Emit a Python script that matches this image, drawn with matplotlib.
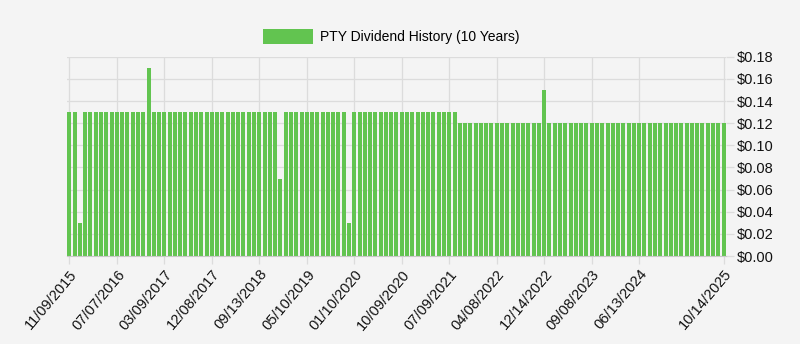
import matplotlib.pyplot as plt

# datos: dividendos de PTY (un valor por pago, en orden)
dividendos = [
    0.13, 0.13, 0.03, 0.13, 0.13, 0.13, 0.13, 0.13, 0.13, 0.13, 0.13, 0.13,
    0.13, 0.13, 0.13, 0.17, 0.13, 0.13, 0.13, 0.13, 0.13, 0.13, 0.13, 0.13,
    0.13, 0.13, 0.13, 0.13, 0.13, 0.13, 0.13, 0.13, 0.13, 0.13, 0.13, 0.13,
    0.13, 0.13, 0.13, 0.13, 0.07, 0.13, 0.13, 0.13, 0.13, 0.13, 0.13, 0.13,
    0.13, 0.13, 0.13, 0.13, 0.13, 0.03, 0.13, 0.13, 0.13, 0.13, 0.13, 0.13,
    0.13, 0.13, 0.13, 0.13, 0.13, 0.13, 0.13, 0.13, 0.13, 0.13, 0.13, 0.13,
    0.13, 0.13, 0.12, 0.12, 0.12, 0.12, 0.12, 0.12, 0.12, 0.12, 0.12, 0.12,
    0.12, 0.12, 0.12, 0.12, 0.12, 0.12, 0.15, 0.12, 0.12, 0.12, 0.12, 0.12,
    0.12, 0.12, 0.12, 0.12, 0.12, 0.12, 0.12, 0.12, 0.12, 0.12, 0.12, 0.12,
    0.12, 0.12, 0.12, 0.12, 0.12, 0.12, 0.12, 0.12, 0.12, 0.12, 0.12, 0.12,
    0.12, 0.12, 0.12, 0.12, 0.12,
]

etiquetas_x = [
    "11/09/2015", "07/07/2016", "03/09/2017", "12/08/2017", "09/13/2018",
    "05/10/2019", "01/10/2020", "10/09/2020", "07/09/2021", "04/08/2022",
    "12/14/2022", "09/08/2023", "06/13/2024", "10/14/2025",
]
valores_y = [0.00, 0.02, 0.04, 0.06, 0.08, 0.10, 0.12, 0.14, 0.16, 0.18]

titulo = "PTY Dividend History (10 Years)"

plt.rcParams['font.family'] = ['Liberation Sans', 'DejaVu Sans']

fondo = '#f4f4f4'
verde = '#62c450'
rejilla = '#dcdcdc'

fig = plt.figure(figsize=(8, 3.44), dpi=100, facecolor=fondo)
ax = fig.add_axes([0.08375, 0.2558, 0.8237, 0.579], facecolor=fondo)

n = len(dividendos)
ax.bar(range(n), dividendos, width=0.76, color=verde, edgecolor='none',
       label=titulo, zorder=2)

# etiquetas cada 9 barras (como el autoskip) y la ultima
posiciones = list(range(0, n - 9, 9)) + [n - 1]
ax.set_xticks(posiciones)
ax.set_xticklabels(etiquetas_x, rotation=50, ha='right', rotation_mode='anchor',
                   fontsize=10.5, color='#111111')
ax.set_xlim(-0.45, n - 0.55)

ax.set_ylim(0, 0.18)
ax.set_yticks(valores_y)
ax.set_yticklabels([f"${v:.2f}" for v in valores_y], fontsize=10.5, color='#111111')
ax.yaxis.tick_right()

ax.grid(True, color=rejilla, linewidth=0.9, zorder=0)
ax.tick_params(axis='both', length=6, color=rejilla, width=0.9, pad=2)
for lado in ['left', 'top', 'right']:
    ax.spines[lado].set_visible(False)
ax.spines['bottom'].set_color('#c8c8c8')

fig.legend(loc='center', bbox_to_anchor=(0.489, 0.895), frameon=False,
           fontsize=10, handlelength=3.6, handleheight=1.3, handletextpad=0.5)

fig.savefig('out.png', dpi=100, facecolor=fondo)
